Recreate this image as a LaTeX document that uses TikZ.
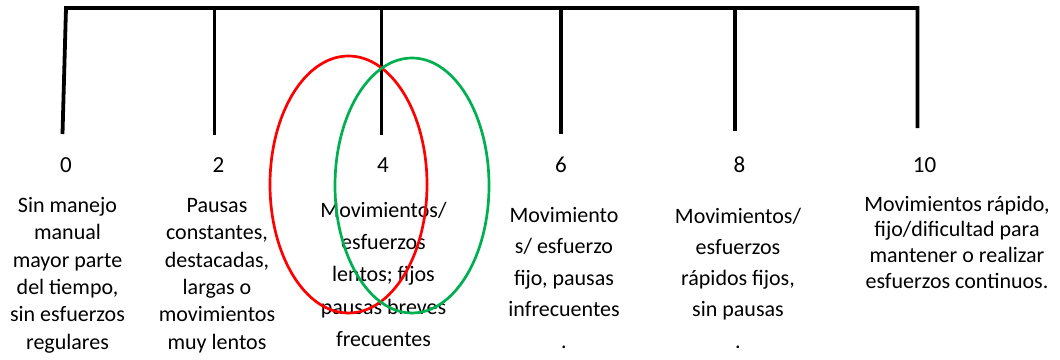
\documentclass[tikz,border=0pt]{standalone}
\usepackage{fontspec}
\setmainfont{Carlito}
\definecolor{ored}{RGB}{255,0,0}
\definecolor{ogreen}{RGB}{0,176,80}
\tikzset{
  tickline/.style={line width=3.8pt, line join=miter},
  ring/.style={line width=2.7pt},
  num/.style={anchor=base, inner sep=0pt, font=\fontsize{23}{27}\selectfont},
  desc/.style={anchor=north, inner sep=0pt, align=center},
}
\newcommand{\firststrut}{\rule{0pt}{18pt}}
\begin{document}
\begin{tikzpicture}[x=1pt,y=-1pt]
\useasboundingbox (0,0) rectangle (1060,359);
% tick coordinates
\coordinate (t0a) at (66,8);      \coordinate (t0b) at (62.5,134);
\coordinate (t2a) at (214.5,8);   \coordinate (t2b) at (214.5,135);
\coordinate (t4a) at (381.5,8);   \coordinate (t4b) at (381.5,135);
\coordinate (t6a) at (561,8);     \coordinate (t6b) at (561,134);
\coordinate (t8a) at (735,8);     \coordinate (t8b) at (735,131);
\coordinate (t10a) at (917.5,8);  \coordinate (t10b) at (917.5,128);
\draw[tickline] (t0b) -- (t0a) -- (t10a) -- (t10b);
\draw[tickline] (t2a) -- (t2b);
\draw[tickline] (t4a) -- (t4b);
\draw[tickline] (t6a) -- (t6b);
\draw[tickline] (t8a) -- (t8b);
% numbers
\node[num] (n0) at (66,172) {0};
\node[num] (n2) at (218.5,172) {2};
\node[num] (n4) at (383,172) {4};
\node[num] (n6) at (561,172) {6};
\node[num] (n8) at (739.5,172) {8};
\node[num] (n10) at (924.5,172) {10};
% descriptions
\node[desc, font=\fontsize{22}{27.4}\selectfont] (d0) at (67.5,194)
  {\firststrut Sin manejo\\manual\\mayor parte\\del tiempo,\\sin esfuerzos\\regulares};
\node[desc, font=\fontsize{22}{27.4}\selectfont] (d2) at (217,194)
  {\firststrut Pausas\\constantes,\\destacadas,\\largas o\\movimientos\\muy lentos};
\node[desc, font=\fontsize{22}{32.3}\selectfont] (d4) at (383.5,199)
  {\firststrut Movimientos/\\esfuerzos\\lentos; fijos\\pausas breves\\frecuentes};
\node[desc, font=\fontsize{22}{31.5}\selectfont] (d6) at (564,204)
  {\firststrut Movimiento\\s/ esfuerzo\\fijo, pausas\\infrecuentes\\.};
\node[desc, font=\fontsize{22}{31.2}\selectfont] (d8) at (738,205)
  {\firststrut Movimientos/\\esfuerzos\\rápidos fijos,\\sin pausas\\.};
\node[desc, font=\fontsize{22}{25.7}\selectfont] (d10) at (957,193)
  {\firststrut Movimientos rápido,\\fijo/dificultad para\\mantener o realizar\\esfuerzos continuos.};
% ellipses
\draw[ring, draw=ored] (348.5,184.5) ellipse [x radius=78.5pt, y radius=128.5pt];
\draw[ring, draw=ogreen] (412,185.5) ellipse [x radius=77pt, y radius=127.5pt];
\end{tikzpicture}
\end{document}
